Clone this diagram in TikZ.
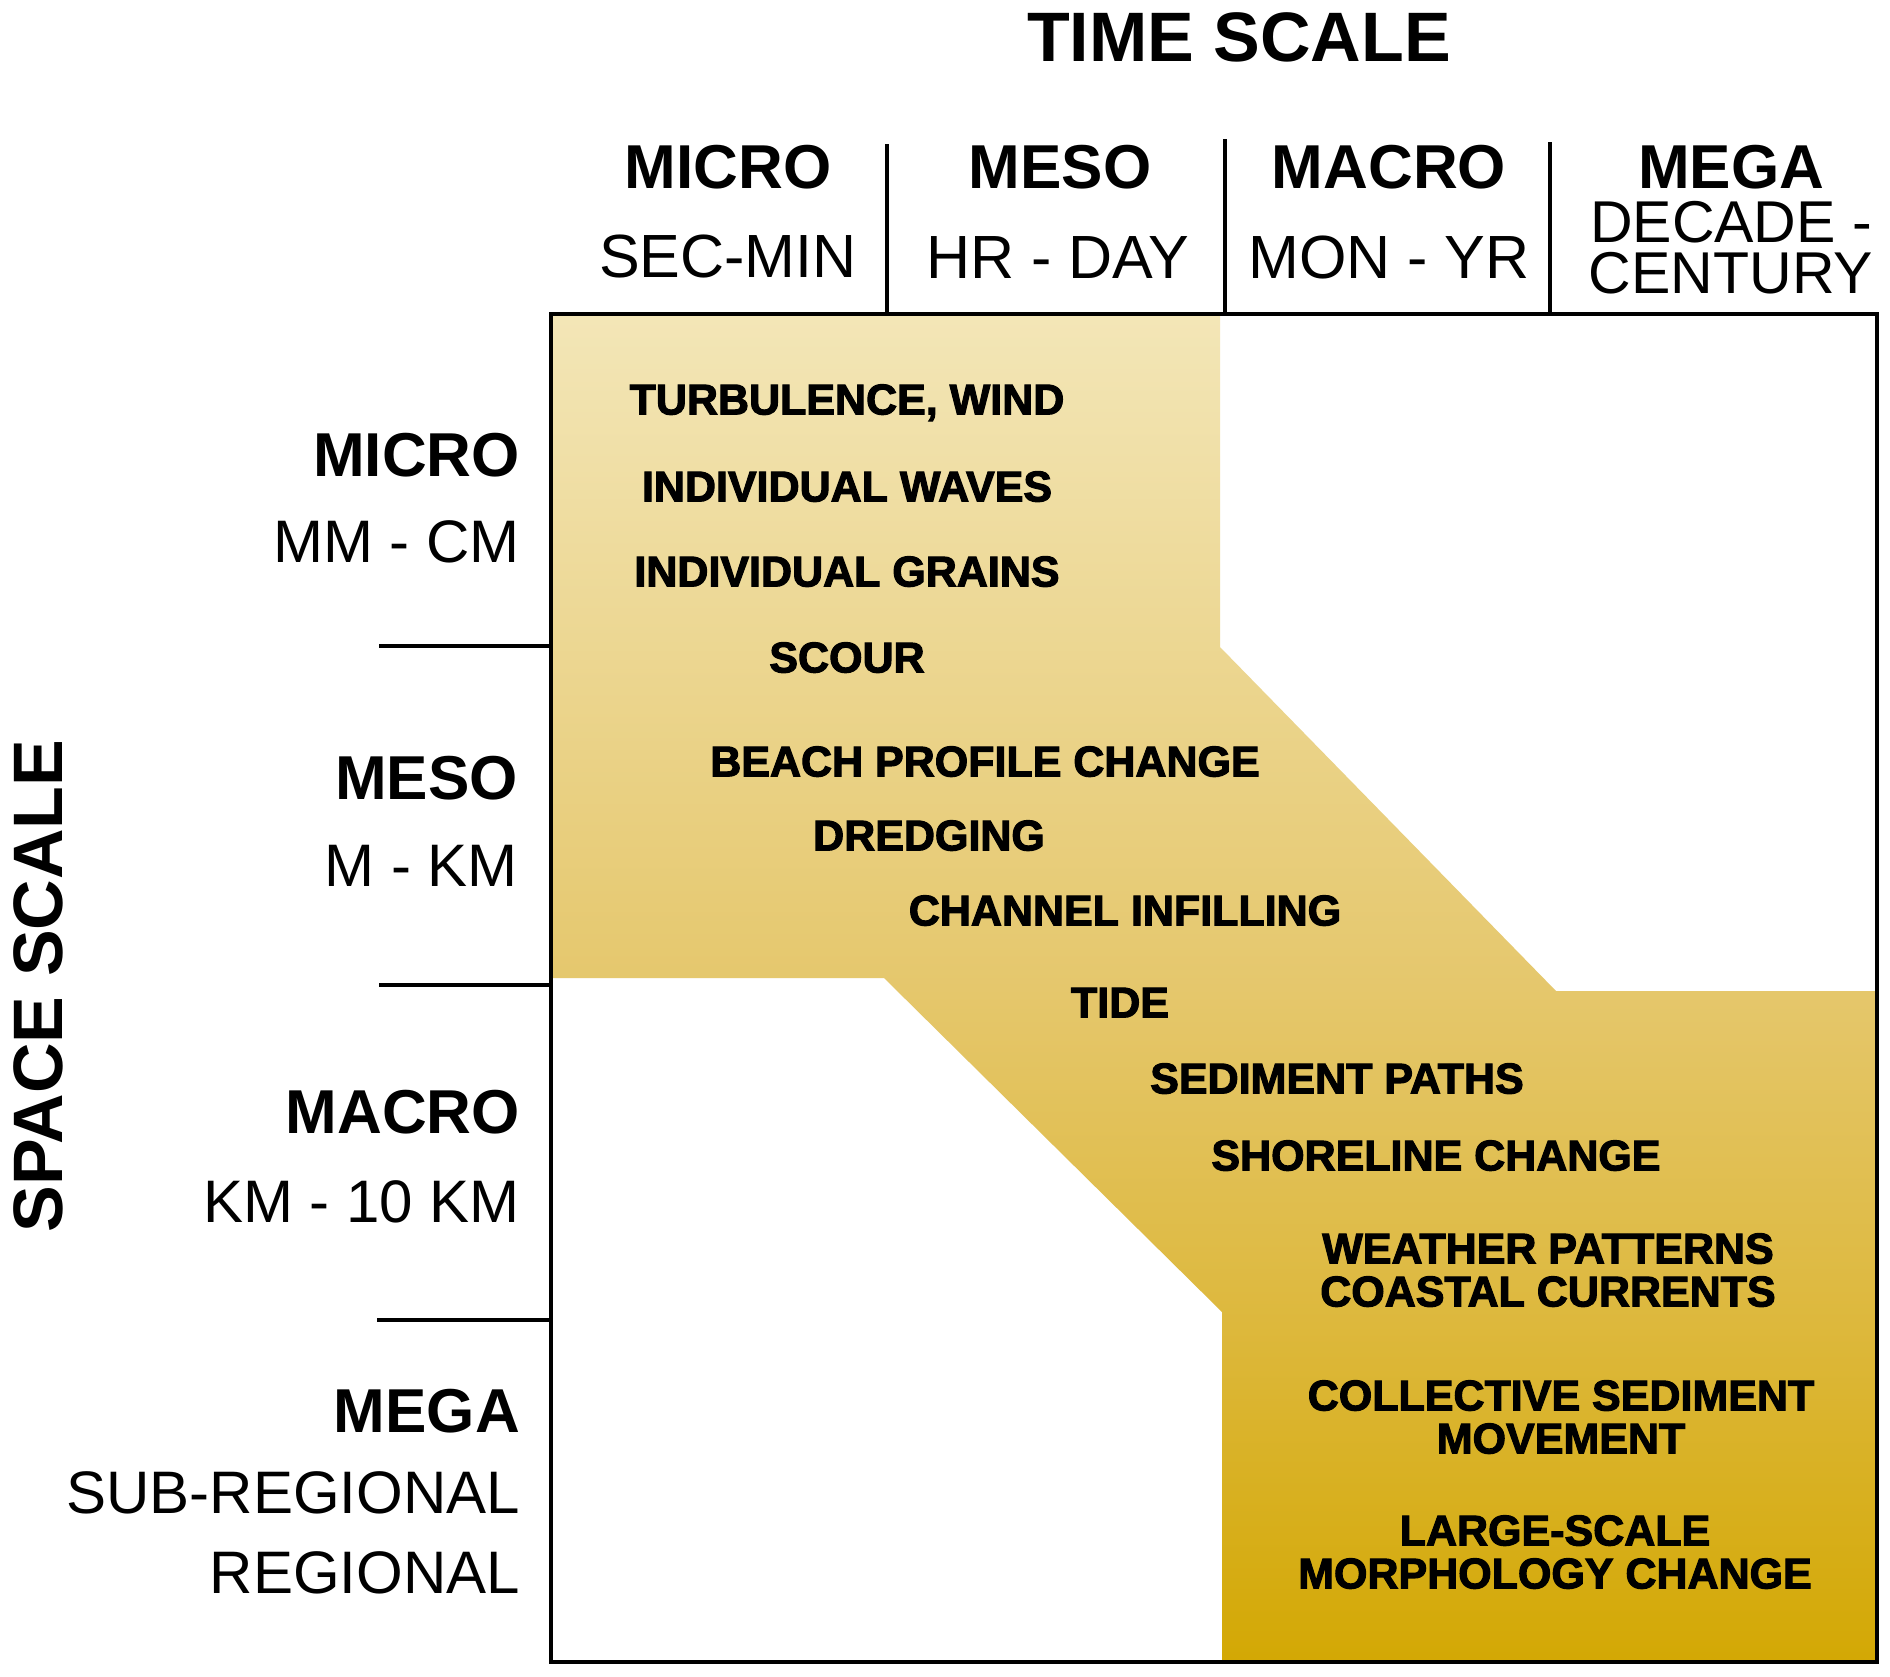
\documentclass[tikz,border=0pt]{standalone}
\usepackage{fontspec}
\setmainfont{Liberation Sans}
\newfontfamily\heavyfont{Liberation Sans Bold}[FakeBold=2.5]
\definecolor{goldA}{RGB}{243,230,183}
\definecolor{goldB}{RGB}{229,199,108}
\definecolor{goldC}{RGB}{221,184,60}
\definecolor{goldD}{RGB}{211,168,4}
\pgfdeclareverticalshading{goldgrad}{100bp}{color(0bp)=(goldD); color(25bp)=(goldD); color(37.5bp)=(goldC); color(50bp)=(goldB); color(75bp)=(goldA); color(100bp)=(goldA)}
\begin{document}
\begin{tikzpicture}[x=1pt,y=-1pt,
  lab/.style={inner sep=0pt, anchor=center, text depth=0pt},
  ttl/.style={lab, text height=50pt, font=\fontsize{70}{70}\selectfont\bfseries},
  hdr/.style={lab, text height=44.4pt, font=\fontsize{62}{62}\selectfont\bfseries},
  sub/.style={lab, text height=43.7pt, font=\fontsize{61}{61}\selectfont},
  subm/.style={lab, text height=42.2pt, font=\fontsize{59}{59}\selectfont},
  lhdr/.style={lab, anchor=east, text height=44.4pt, font=\fontsize{62}{62}\selectfont\bfseries},
  lsub/.style={lab, anchor=east, text height=43pt, font=\fontsize{60}{60}\selectfont},
  item/.style={lab, text height=30.8pt, font=\fontsize{43}{43}\selectfont\heavyfont},
  rule/.style={line width=3.5pt, black},
]
\useasboundingbox (0,0) rectangle (1890,1676);
\fill[white] (0,0) rectangle (1890,1676);

% gold band
\shade[shading=goldgrad]
  (551,314) -- (1220,314) -- (1220,647) -- (1556,991) -- (1877,991)
  -- (1877,1662) -- (1222,1662) -- (1222,1312) -- (884,978) -- (551,978) -- cycle;

% frame
\coordinate (tl) at (551,314);
\coordinate (br) at (1877,1662);
\draw[line width=4pt] (tl) rectangle (br);

% column dividers
\coordinate (c1t) at (887,144); \coordinate (c1b) at (887,314);
\coordinate (c2t) at (1225,139); \coordinate (c2b) at (1225,314);
\coordinate (c3t) at (1550,142); \coordinate (c3b) at (1550,314);
\draw[rule] (c1t) -- (c1b);
\draw[rule] (c2t) -- (c2b);
\draw[rule] (c3t) -- (c3b);

% row dividers
\coordinate (r1l) at (379,646); \coordinate (r1r) at (551,646);
\coordinate (r2l) at (379,985); \coordinate (r2r) at (551,985);
\coordinate (r3l) at (377,1320); \coordinate (r3r) at (551,1320);
\draw[rule] (r1l) -- (r1r);
\draw[rule] (r2l) -- (r2r);
\draw[rule] (r3l) -- (r3r);

% titles
\node[ttl] (time) at (1239,36) {TIME SCALE};
\node[ttl, rotate=90] (space) at (37,986) {SPACE SCALE};

% column headers
\node[hdr] (tmicro) at (728,166) {MICRO};
\node[sub] (tmicros) at (728,256) {SEC-MIN};
\node[hdr] (tmeso) at (1060,166) {MESO};
\node[sub] (tmesos) at (1058,257) {HR - DAY};
\node[hdr] (tmacro) at (1389,166) {MACRO};
\node[sub] (tmacros) at (1389,257) {MON - YR};
\node[hdr] (tmega) at (1731,166) {MEGA};
\node[subm] (tmegas1) at (1731,221) {DECADE -};
\node[subm] (tmegas2) at (1731,272) {CENTURY};

% row headers
\node[lhdr] (smicro) at (520,454) {MICRO};
\node[lsub] (smicros) at (520,541) {MM - CM};
\node[lhdr] (smeso) at (518,777) {MESO};
\node[lsub] (smesos) at (518,865) {M - KM};
\node[lhdr] (smacro) at (520,1111) {MACRO};
\node[lsub] (smacros) at (520,1201) {KM - 10 KM};
\node[lhdr] (smega) at (520,1410) {MEGA};
\node[lsub] (smegas1) at (520,1492) {SUB-REGIONAL};
\node[lsub] (smegas2) at (520,1572) {REGIONAL};

% items
\node[item] (turb) at (847,399) {TURBULENCE, WIND};
\node[item] (waves) at (847,486) {INDIVIDUAL WAVES};
\node[item] (grains) at (847,571) {INDIVIDUAL GRAINS};
\node[item] (scour) at (847,657) {SCOUR};
\node[item] (beach) at (985,761) {BEACH PROFILE CHANGE};
\node[item] (dredge) at (929,835) {DREDGING};
\node[item] (chan) at (1125,910) {CHANNEL INFILLING};
\node[item] (tide) at (1120,1002) {TIDE};
\node[item] (sedp) at (1337,1078) {SEDIMENT PATHS};
\node[item] (shore) at (1436,1155) {SHORELINE CHANGE};
\node[item] (weather) at (1548,1248) {WEATHER PATTERNS};
\node[item] (coast) at (1548,1291) {COASTAL CURRENTS};
\node[item] (coll) at (1561,1395) {COLLECTIVE SEDIMENT};
\node[item] (move) at (1561,1438) {MOVEMENT};
\node[item] (large) at (1555,1530) {LARGE-SCALE};
\node[item] (morph) at (1555,1573) {MORPHOLOGY CHANGE};
\end{tikzpicture}
\end{document}
